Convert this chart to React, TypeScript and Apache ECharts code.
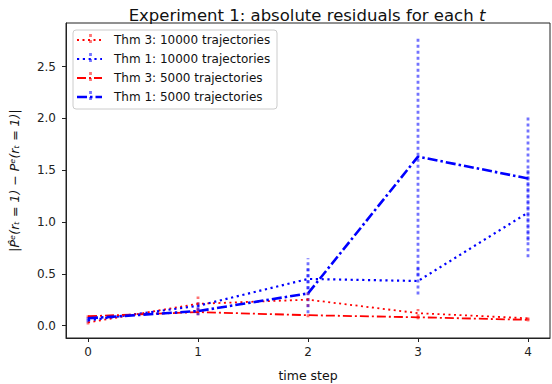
import React, { useEffect, useRef } from "react";
import * as echarts from "echarts";

const steps = [0, 1, 2, 3, 4];
const xTicks = [0, 1, 2, 3, 4];
const yTicks = [0, 0.5, 1.0, 1.5, 2.0, 2.5];

const seriesNames = [
  "Thm 3: 10000 trajectories",
  "Thm 1: 10000 trajectories",
  "Thm 3: 5000 trajectories",
  "Thm 1: 5000 trajectories",
];

const thm3_10000 = [0.03, 0.21, 0.25, 0.12, 0.07];
const thm1_10000 = [0.05, 0.19, 0.45, 0.43, 1.09];
const thm3_5000 = [0.09, 0.13, 0.1, 0.08, 0.055];
const thm1_5000 = [0.07, 0.14, 0.31, 1.63, 1.42];

const thm3_10000_lo = [0.01, 0.14, 0.18, 0.08, 0.05];
const thm3_10000_hi = [0.05, 0.28, 0.32, 0.16, 0.09];
const thm1_10000_lo = [0.03, 0.13, 0.35, 0.3, 0.66];
const thm1_10000_hi = [0.07, 0.24, 0.55, 0.56, 1.52];
const thm3_5000_lo = [0.07, 0.1, 0.08, 0.06, 0.04];
const thm3_5000_hi = [0.11, 0.16, 0.12, 0.1, 0.07];
const thm1_5000_lo = [0.05, 0.1, 0.12, 0.48, 0.82];
const thm1_5000_hi = [0.09, 0.22, 0.65, 2.78, 2.03];

const RED = "#ff0000";
const BLUE = "#0000ff";

const lineStyles = [
  { color: RED, width: 1.8, type: [2, 3.5] },
  { color: BLUE, width: 2.2, type: [2.2, 3.6] },
  { color: RED, width: 1.8, type: [9, 3, 2, 3] },
  { color: BLUE, width: 2.6, type: [10, 3, 2.5, 3] },
];

const values = [thm3_10000, thm1_10000, thm3_5000, thm1_5000];
const lows = [thm3_10000_lo, thm1_10000_lo, thm3_5000_lo, thm1_5000_lo];
const highs = [thm3_10000_hi, thm1_10000_hi, thm3_5000_hi, thm1_5000_hi];

export default function App() {
  const ref = useRef<HTMLDivElement>(null);
  useEffect(() => {
    if (!ref.current) return;
    const chart = echarts.init(ref.current, null, { renderer: "svg" });

    const lineSeries = values.map((vals, i) => ({
      name: seriesNames[i],
      type: "line",
      data: steps.map((s, k) => [s, vals[k]]),
      symbol: "none",
      lineStyle: {
        color: lineStyles[i].color,
        width: lineStyles[i].width,
        type: lineStyles[i].type,
        cap: "butt",
      },
      z: 3,
    }));

    const errSeries = values.map((_, i) => ({
      name: seriesNames[i] + " err",
      type: "custom",
      data: steps.map((s, k) => [s, lows[i][k], highs[i][k]]),
      renderItem: (params: any, api: any) => {
        const p1 = api.coord([api.value(0), api.value(1)]);
        const p2 = api.coord([api.value(0), api.value(2)]);
        return {
          type: "line",
          shape: { x1: p1[0], y1: p1[1], x2: p2[0], y2: p2[1] },
          style: {
            stroke: lineStyles[i].color,
            lineWidth: 2.8,
            lineDash: [3, 3],
            opacity: 0.55,
          },
        };
      },
      z: 2,
    }));

    const rowY = [40, 59, 78, 97];
    const legendEls: any[] = [
      {
        type: "rect",
        shape: { x: 73, y: 30, width: 204, height: 79, r: 3 },
        style: { fill: "rgba(255,255,255,0.8)", stroke: "#cccccc", lineWidth: 1 },
        z: 10,
      },
    ];
    rowY.forEach((y, i) => {
      legendEls.push({
        type: "line",
        shape: { x1: 77, y1: y, x2: 102, y2: y },
        style: {
          stroke: lineStyles[i].color,
          lineWidth: lineStyles[i].width,
          lineDash: lineStyles[i].type,
        },
        z: 11,
      });
      legendEls.push({
        type: "line",
        shape: { x1: 90.5, y1: y - 6, x2: 90.5, y2: y + 6 },
        style: { stroke: lineStyles[i].color, lineWidth: 2.8, lineDash: [3, 3], opacity: 0.55 },
        z: 11,
      });
      legendEls.push({
        type: "text",
        x: 114,
        y: y,
        style: {
          text: seriesNames[i],
          fill: "#111",
          font: "12px 'DejaVu Sans'",
          verticalAlign: "middle",
          textAlign: "left",
        },
        z: 11,
      });
    });

    chart.setOption({
      animation: false,
      backgroundColor: "#fff",
      textStyle: { fontFamily: "DejaVu Sans" },
      title: {
        text: "{n|Experiment 1: absolute residuals for each }{i|t}",
        left: 302,
        top: 2,
        textAlign: "center",
        textStyle: {
          fontWeight: "normal",
          rich: {
            n: { fontSize: 16.5, color: "#111", fontFamily: "DejaVu Sans", fontWeight: "normal" },
            i: { fontSize: 16.5, color: "#111", fontFamily: "DejaVu Sans", fontStyle: "italic", fontWeight: "normal" },
          },
        },
      },
      grid: {
        left: 66,
        right: 2,
        top: 23,
        bottom: 46,
        show: true,
        borderColor: "#222",
        borderWidth: 1,
        containLabel: false,
        outerBoundsMode: "none",
      },
      xAxis: {
        type: "value",
        min: -0.2,
        max: 4.2,
        name: "time step",
        nameLocation: "middle",
        nameGap: 31,
        nameTextStyle: { fontSize: 12.5, color: "#111", fontFamily: "DejaVu Sans" },
        axisLine: { show: true, onZero: false, lineStyle: { color: "#222", width: 1 } },
        axisTick: { show: true, length: 4, inside: false, customValues: xTicks, lineStyle: { color: "#222" } },
        axisLabel: { customValues: xTicks, fontSize: 12, color: "#222", margin: 8, fontFamily: "DejaVu Sans" },
        splitLine: { show: false },
      },
      yAxis: {
        type: "value",
        min: -0.12,
        max: 2.92,
        name: "|P\u0302\u1D49(r\u209C = 1) \u2212 P\u1D49(r\u209C = 1)|",
        nameLocation: "middle",
        nameGap: 45,
        nameTextStyle: { fontSize: 12.5, color: "#111", fontFamily: "DejaVu Sans", fontStyle: "italic" },
        axisLine: { show: true, onZero: false, lineStyle: { color: "#222", width: 1 } },
        axisTick: { show: true, length: 4, inside: false, customValues: yTicks, lineStyle: { color: "#222" } },
        axisLabel: {
          customValues: yTicks,
          fontSize: 12,
          color: "#222",
          margin: 10,
          fontFamily: "DejaVu Sans",
          formatter: (v: number) => v.toFixed(1),
        },
        splitLine: { show: false },
      },
      series: [...errSeries, ...lineSeries],
      graphic: legendEls,
    });
    return () => chart.dispose();
  }, []);
  return (
    <div
      ref={ref}
      style={{ position: "fixed", left: 0, top: 0, width: 552, height: 384 }}
    />
  );
}
